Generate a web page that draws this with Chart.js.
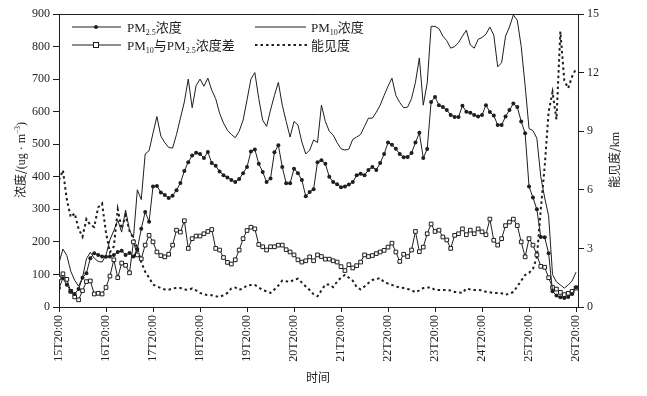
<!DOCTYPE html>
<html lang="zh">
<head>
  <meta charset="UTF-8" />
  <title>PM浓度与能见度</title>
  <style>
    html, body { margin: 0; padding: 0; background: #fff; }
    #wrap { width: 647px; height: 396px; }
  </style>
  <script src="https://cdn.jsdelivr.net/npm/chart.js"></script>
</head>
<body>
  <div id="wrap"><canvas id="chart" width="647" height="396"></canvas></div>

  <script>
    // ─── data: one value every 2 hours, from 15T20:00 (hour 0) to 26T20:00 (hour 264) ───
    const STEP_HOURS = 2;
    const TICK_HOURS  = [0, 24, 48, 72, 96, 120, 144, 168, 192, 216, 240, 264];
    const TICK_LABELS = ['15T20:00','16T20:00','17T20:00','18T20:00','19T20:00','20T20:00',
                         '21T20:00','22T20:00','23T20:00','24T20:00','25T20:00','26T20:00'];

    // PM2.5 浓度 (ug/m3), 12 values per day
    const PM25 = [
      58, 88, 68, 48, 40, 55, 90, 104, 150, 165, 160, 155,
      154, 155, 160, 169, 173, 160, 166, 155, 178, 240, 292, 262,
      370, 372, 352, 344, 335, 342, 359, 381, 418, 445, 465, 474,
      470, 458, 476, 442, 434, 416, 405, 398, 390, 384, 393, 411,
      430, 478, 484, 440, 415, 384, 395, 475, 497, 430, 380, 380,
      425, 411, 390, 340, 353, 362, 445, 451, 440, 400, 384, 377,
      368, 370, 376, 384, 405, 409, 405, 421, 430, 421, 442, 470,
      505, 498, 486, 470, 460, 461, 473, 505, 535, 458, 485, 630,
      645, 620, 614, 605, 590, 584, 584, 618, 600, 597, 590, 585,
      590, 620, 599, 588, 559, 559, 585, 605, 625, 614, 570, 534,
      370, 336, 300, 215, 214, 165, 48, 35, 30, 28, 31, 40,
      61
    ];

    // PM10 浓度 (ug/m3)
    const PM10 = [
      135, 178, 158, 110, 82, 64, 90, 148, 168, 150, 140, 138,
      160, 206, 235, 267, 230, 298, 236, 212, 360, 330, 470, 480,
      534, 585, 525, 505, 490, 488, 530, 580, 630, 700, 612, 680,
      700, 678, 703, 666, 640, 595, 565, 543, 530, 520, 540, 574,
      636, 700, 720, 640, 574, 555, 605, 650, 690, 620, 570, 522,
      570, 559, 507, 470, 482, 513, 505, 620, 570, 540, 528, 505,
      486, 482, 485, 515, 522, 530, 555, 580, 580, 598, 620, 650,
      678, 703, 650, 628, 612, 614, 640, 690, 765, 620, 688, 862,
      862, 855, 832, 818, 795, 800, 812, 832, 850, 805, 795, 822,
      828, 838, 860, 835, 738, 750, 832, 860, 897, 881, 800, 680,
      548, 542, 518, 400, 335, 280, 100, 77, 68, 58, 68, 80,
      107
    ];

    // PM10 与 PM2.5 浓度差 (ug/m3)
    const DIFF = [
      89, 102, 85, 48, 31, 22, 50, 78, 80, 40, 42, 40,
      60, 95, 145, 90, 135, 128, 105, 200, 160, 148, 190, 220,
      200, 169, 158, 154, 162, 190, 236, 230, 265, 180, 210, 218,
      218, 225, 232, 238, 180, 175, 152, 137, 132, 145, 175, 210,
      235, 245, 240, 192, 185, 175, 185, 185, 190, 190, 176, 169,
      160, 145, 138, 142, 154, 142, 160, 155, 147, 147, 142, 138,
      124, 112, 130, 120, 127, 138, 160, 155, 158, 164, 169, 174,
      184, 196, 169, 140, 162, 155, 175, 232, 170, 184, 225, 255,
      232, 236, 215, 206, 180, 220, 225, 240, 222, 236, 225, 240,
      231, 222, 270, 205, 190, 210, 250, 261, 270, 250, 200, 154,
      210, 190, 160, 125, 122, 90, 60, 55, 45, 38, 42, 48,
      58
    ];

    // 能见度 (km), right axis
    const VIS = [
      6.5, 7.0, 5.5, 4.6, 4.8, 4.0, 3.6, 4.5, 4.2, 4.1, 5.1, 5.3,
      3.8, 2.8, 3.1, 5.0, 4.0, 4.7, 3.9, 3.5, 3.0, 2.3, 1.8, 1.5,
      1.15, 1.05, 0.97, 0.9, 0.88, 0.95, 0.97, 0.97, 0.9, 0.88, 0.95, 0.85,
      0.72, 0.65, 0.6, 0.6, 0.55, 0.52, 0.6, 0.72, 0.95, 1.0, 0.88, 0.95,
      1.1, 1.13, 1.13, 1.0, 0.87, 0.8, 0.72, 0.9, 1.1, 1.35, 1.32, 1.28,
      1.4, 1.45, 1.25, 1.05, 0.87, 0.65, 0.55, 0.85, 1.15, 1.15, 1.02, 1.3,
      1.5, 1.64, 1.5, 1.35, 1.02, 0.9, 1.05, 1.23, 1.38, 1.43, 1.48, 1.27,
      1.2, 1.13, 1.05, 1.0, 0.97, 0.92, 0.87, 0.75, 0.85, 0.97, 1.0, 1.0,
      0.87, 0.87, 0.87, 0.87, 0.85, 0.77, 0.75, 0.72, 0.95, 0.9, 0.87, 0.87,
      0.85, 0.78, 0.75, 0.72, 0.72, 0.7, 0.63, 0.68, 0.77, 1.05, 1.35, 1.64,
      1.75, 1.95, 2.56, 5.0, 7.2, 10.0, 11.0, 9.6, 14.1, 11.6, 11.2, 11.8,
      12.2
    ];

    // ─── style ─────────────────────────────────────────────
    const INK   = '#1e1e1e';
    const SERIF = "'Liberation Serif', 'Noto Sans CJK SC', serif";
    const CJK   = "'Noto Sans CJK SC', 'Liberation Serif', serif";

    const pts = arr => arr.map((v, i) => ({ x: i * STEP_HOURS, y: v }));

    // draw text with subscript / superscript parts: [text, 0|1(sub)|-1(sup), font]
    function richWidth(ctx, parts, size) {
      let w = 0;
      parts.forEach(([t, s, f]) => {
        ctx.font = `${s ? size * 0.62 : size}px ${f || SERIF}`;
        w += ctx.measureText(t).width;
      });
      return w;
    }
    function drawRich(ctx, x, y, parts, size) {
      parts.forEach(([t, s, f]) => {
        const fs = s ? size * 0.62 : size;
        ctx.font = `${fs}px ${f || SERIF}`;
        const dy = s === 1 ? size * 0.22 : s === -1 ? -size * 0.42 : 0;
        ctx.fillText(t, x, y + dy);
        x += ctx.measureText(t).width;
      });
    }

    const decor = {
      id: 'decor',
      afterDraw(chart) {
        const { ctx, chartArea: a } = chart;
        ctx.save();
        ctx.strokeStyle = INK;
        ctx.fillStyle = INK;
        ctx.lineWidth = 1;

        // frame top
        ctx.beginPath();
        ctx.moveTo(a.left, a.top + 0.5);
        ctx.lineTo(a.right, a.top + 0.5);
        ctx.stroke();

        // legend
        ctx.textBaseline = 'alphabetic';
        ctx.textAlign = 'left';
        const row1 = 27, row2 = 45;
        // PM2.5
        ctx.beginPath(); ctx.moveTo(72, row1); ctx.lineTo(121, row1); ctx.stroke();
        ctx.beginPath(); ctx.arc(96, row1, 2, 0, Math.PI * 2); ctx.fill();
        drawRich(ctx, 127, row1 + 5, [['PM', 0], ['2.5', 1], ['浓度', 0, CJK]], 13);
        // diff
        ctx.beginPath(); ctx.moveTo(72, row2); ctx.lineTo(121, row2); ctx.stroke();
        ctx.fillStyle = '#fff';
        ctx.fillRect(93.5, row2 - 2.5, 5, 5);
        ctx.strokeRect(93.5, row2 - 2.5, 5, 5);
        ctx.fillStyle = INK;
        drawRich(ctx, 127, row2 + 5, [['PM', 0], ['10', 1], ['与', 0, CJK], ['PM', 0], ['2.5', 1], ['浓度差', 0, CJK]], 13);
        // PM10
        ctx.beginPath(); ctx.moveTo(255, row1); ctx.lineTo(306, row1); ctx.stroke();
        drawRich(ctx, 311, row1 + 5, [['PM', 0], ['10', 1], ['浓度', 0, CJK]], 13);
        // visibility
        ctx.save();
        ctx.lineWidth = 2;
        ctx.setLineDash([2.5, 3]);
        ctx.beginPath(); ctx.moveTo(255, row2); ctx.lineTo(307, row2); ctx.stroke();
        ctx.restore();
        drawRich(ctx, 311, row2 + 5, [['能见度', 0, CJK]], 13);

        // left axis title
        const lt = [['浓度/', 0, CJK], ['(ug · m', 0], ['−3', -1], [')', 0]];
        ctx.save();
        ctx.translate(25, 160);
        ctx.rotate(-Math.PI / 2);
        drawRich(ctx, -richWidth(ctx, lt, 12) / 2, 0, lt, 12);
        ctx.restore();

        // right axis title
        const rt = [['能见度/', 0, CJK], ['km', 0]];
        ctx.save();
        ctx.translate(619, 160);
        ctx.rotate(-Math.PI / 2);
        drawRich(ctx, -richWidth(ctx, rt, 12) / 2, 0, rt, 12);
        ctx.restore();

        // x title
        ctx.font = `12px ${CJK}`;
        ctx.textAlign = 'center';
        ctx.fillText('时间', 318, 382);
        ctx.restore();
      }
    };

    const tickFont = { family: SERIF, size: 12 };

    new Chart(document.getElementById('chart'), {
      type: 'line',
      data: {
        datasets: [
          { label: 'PM2.5浓度', data: pts(PM25), yAxisID: 'y',
            borderColor: INK, borderWidth: 1, pointRadius: 2, pointBorderWidth: 0,
            pointBackgroundColor: INK, tension: 0 },
          { label: 'PM10与PM2.5浓度差', data: pts(DIFF), yAxisID: 'y',
            borderColor: INK, borderWidth: 1, pointStyle: 'rect', pointRadius: 2.6,
            pointBorderWidth: 1, pointBorderColor: INK, pointBackgroundColor: '#fff', tension: 0 },
          { label: 'PM10浓度', data: pts(PM10), yAxisID: 'y',
            borderColor: INK, borderWidth: 1, pointRadius: 0, tension: 0 },
          { label: '能见度', data: pts(VIS), yAxisID: 'y1',
            borderColor: INK, borderWidth: 2, borderDash: [2.5, 3], pointRadius: 0, tension: 0 }
        ]
      },
      options: {
        responsive: false,
        animation: false,
        devicePixelRatio: 1,
        layout: { padding: { top: 14, left: 0, right: 0, bottom: 0 } },
        plugins: { legend: { display: false }, tooltip: { enabled: false } },
        scales: {
          x: {
            type: 'linear', min: 0, max: 265,
            afterBuildTicks: s => { s.ticks = TICK_HOURS.map(v => ({ value: v })); },
            afterFit: s => { s.height = 89; },
            ticks: { autoSkip: false, minRotation: 90, maxRotation: 90, padding: 3,
                     color: INK, font: tickFont, callback: (v, i) => TICK_LABELS[i] },
            grid: { drawOnChartArea: false, drawTicks: true, tickLength: 5, color: INK },
            border: { color: INK, width: 1 }
          },
          y: {
            position: 'left', min: 0, max: 900,
            afterFit: s => { s.width = 59; },
            ticks: { stepSize: 100, padding: 3, color: INK, font: tickFont },
            grid: { drawOnChartArea: false, drawTicks: true, tickLength: 6, color: INK },
            border: { color: INK, width: 1 }
          },
          y1: {
            position: 'right', min: 0, max: 15,
            afterFit: s => { s.width = 69; },
            ticks: { stepSize: 3, padding: 3, color: INK, font: tickFont },
            grid: { drawOnChartArea: false, drawTicks: true, tickLength: 6, color: INK },
            border: { color: INK, width: 1 }
          }
        }
      },
      plugins: [decor]
    });
  </script>
</body>
</html>
